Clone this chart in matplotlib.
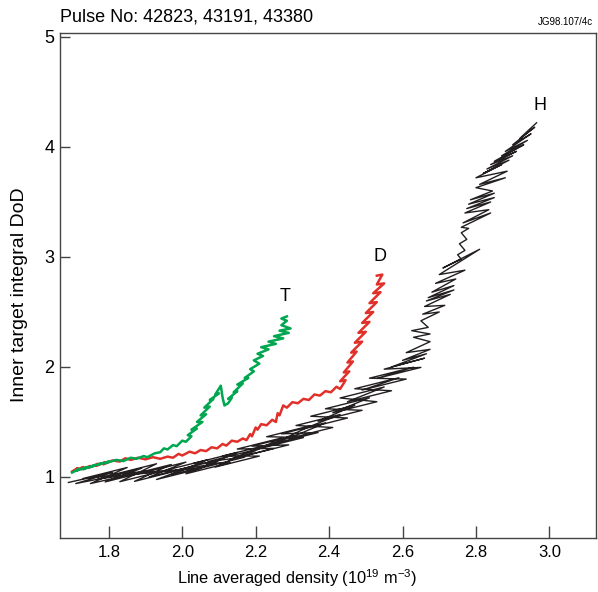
import matplotlib
matplotlib.use("Agg")
import matplotlib.pyplot as plt

plt.rcParams['font.family'] = ['Liberation Sans', 'DejaVu Sans']
plt.rcParams['mathtext.fontset'] = 'custom'
plt.rcParams['mathtext.rm'] = 'Liberation Sans'
plt.rcParams['mathtext.it'] = 'Liberation Sans'

# H (black) - sawtooth strokes, start/end pairs
h_x = [1.69, 1.81, 1.71, 1.83, 1.73, 1.85, 1.75, 1.87, 1.77, 1.89,
       1.79, 1.91, 1.81, 1.93, 1.83, 1.95, 1.85, 1.97, 1.87, 1.99,
       1.89, 2.01, 1.91, 2.03, 1.93, 2.05, 1.95, 2.07, 1.97, 2.09,
       1.99, 2.11, 2.01, 2.13, 2.03, 2.15, 2.05, 2.17, 2.07, 2.19,
       2.09, 2.21, 2.11, 2.23, 2.13, 2.25, 2.15, 2.27, 2.17, 2.29,
       2.19, 2.31, 2.21, 2.33, 2.23, 2.35, 2.25, 2.37, 2.27, 2.39,
       2.29, 2.41, 2.31, 2.43, 2.33, 2.45, 2.35, 2.47, 2.37, 2.49,
       2.39, 2.51, 2.41, 2.53, 2.43, 2.55, 2.45, 2.57, 2.47, 2.59,
       2.49, 2.61, 2.51, 2.63, 2.53, 2.65, 2.55, 2.66, 2.57, 2.665,
       2.60, 2.675, 2.61, 2.675,
       2.63, 2.675, 2.625, 2.67,
       2.65, 2.70, 2.655, 2.715, 2.66, 2.73, 2.665, 2.74, 2.67, 2.74,
       2.68, 2.745, 2.69, 2.77, 2.70, 2.81, 2.71, 2.76,
       2.75, 2.77, 2.755, 2.775, 2.76, 2.78,
       2.76, 2.84, 2.765, 2.835, 2.77, 2.84, 2.775, 2.85, 2.78, 2.85,
       2.785, 2.845, 2.80, 2.88, 2.81, 2.885, 2.80, 2.87, 2.82, 2.89,
       2.83, 2.90, 2.84, 2.91, 2.85, 2.93, 2.87, 2.94, 2.88, 2.95,
       2.90, 2.96, 2.92, 2.965]
h_y = [0.95, 1.04, 0.94, 1.02, 0.986, 1.086, 0.94, 1.03, 0.98, 1.08,
       0.955, 1.055, 1.02, 1.12, 0.957, 1.057, 1.013, 1.113, 0.96, 1.06,
       1.035, 1.135, 1.00, 1.10, 0.977, 1.077, 1.057, 1.157, 1.021, 1.121,
       1.065, 1.165, 1.029, 1.129, 1.123, 1.223, 1.08, 1.18, 1.14, 1.24,
       1.09, 1.19, 1.19, 1.29, 1.16, 1.26, 1.254, 1.354, 1.192, 1.292,
       1.28, 1.38, 1.258, 1.358, 1.366, 1.466, 1.304, 1.404, 1.392, 1.492,
       1.35, 1.45, 1.468, 1.568, 1.436, 1.536, 1.552, 1.652, 1.506, 1.606,
       1.62, 1.72, 1.584, 1.684, 1.718, 1.818, 1.684, 1.784, 1.802, 1.902,
       1.79, 1.89, 1.898, 1.998, 1.896, 1.996, 1.98, 2.08, 2.00, 2.12,
       2.06, 2.16, 2.13, 2.23,
       2.27, 2.30, 2.33, 2.36,
       2.42, 2.50, 2.48, 2.56, 2.55, 2.66, 2.60, 2.70, 2.63, 2.74,
       2.68, 2.80, 2.76, 2.88, 2.84, 3.07, 2.90, 2.98,
       3.02, 3.06, 3.12, 3.16, 3.22, 3.26,
       3.27, 3.40, 3.31, 3.43, 3.40, 3.50, 3.44, 3.54, 3.48, 3.58,
       3.52, 3.60, 3.63, 3.72, 3.66, 3.78, 3.72, 3.84, 3.76, 3.88,
       3.80, 3.92, 3.84, 3.96, 3.87, 4.02, 3.92, 4.06, 3.96, 4.12,
       4.02, 4.18, 4.08, 4.22]

# D (red)
d_x = [1.70, 1.715, 1.71, 1.73, 1.725, 1.75, 1.745, 1.77, 1.765, 1.79,
       1.785, 1.81, 1.83, 1.845, 1.86, 1.88, 1.90, 1.92, 1.94, 1.96,
       1.975, 1.99, 2.00, 2.02, 2.035, 2.05, 2.065, 2.08, 2.095, 2.11,
       2.12, 2.135, 2.15, 2.165, 2.175, 2.185, 2.19, 2.20, 2.205, 2.215,
       2.23, 2.245, 2.255, 2.26, 2.265, 2.275, 2.285, 2.30, 2.315, 2.33,
       2.345, 2.36, 2.375, 2.39, 2.405, 2.42, 2.43, 2.445, 2.43, 2.455,
       2.44, 2.465, 2.45, 2.475, 2.46, 2.49, 2.47, 2.50, 2.48, 2.51,
       2.49, 2.52, 2.50, 2.53, 2.51, 2.54, 2.52, 2.55, 2.53, 2.545,
       2.53]
d_y = [1.05, 1.08, 1.06, 1.09, 1.07, 1.10, 1.085, 1.12, 1.10, 1.135,
       1.115, 1.15, 1.14, 1.17, 1.155, 1.175, 1.16, 1.18, 1.165, 1.185,
       1.175, 1.21, 1.195, 1.23, 1.215, 1.245, 1.235, 1.27, 1.26, 1.30,
       1.285, 1.33, 1.32, 1.35, 1.335, 1.39, 1.37, 1.45, 1.43, 1.48,
       1.47, 1.52, 1.50, 1.58, 1.56, 1.65, 1.63, 1.68, 1.67, 1.71,
       1.70, 1.75, 1.74, 1.78, 1.77, 1.82, 1.80, 1.88, 1.87, 1.96,
       1.95, 2.05, 2.04, 2.14, 2.13, 2.23, 2.22, 2.32, 2.31, 2.41,
       2.40, 2.50, 2.49, 2.59, 2.58, 2.68, 2.67, 2.76, 2.75, 2.84,
       2.83]

# T (green)
t_x = [1.70, 1.72, 1.71, 1.74, 1.73, 1.76, 1.75, 1.78, 1.77, 1.80,
       1.79, 1.82, 1.84, 1.86, 1.875, 1.895, 1.905, 1.925, 1.94, 1.95,
       1.96, 1.975, 1.985, 2.00, 2.01, 2.025, 2.015, 2.04, 2.025, 2.055,
       2.04, 2.065, 2.05, 2.075, 2.06, 2.085, 2.075, 2.10, 2.09, 2.105,
       2.11, 2.115, 2.125, 2.135, 2.125, 2.15, 2.14, 2.165, 2.15, 2.18,
       2.17, 2.195, 2.185, 2.21, 2.195, 2.22, 2.205, 2.235, 2.215, 2.255,
       2.235, 2.275, 2.25, 2.29, 2.265, 2.295, 2.27, 2.285, 2.27, 2.285]
t_y = [1.04, 1.075, 1.055, 1.09, 1.07, 1.105, 1.09, 1.125, 1.11, 1.14,
       1.125, 1.155, 1.145, 1.175, 1.165, 1.19, 1.18, 1.215, 1.225, 1.26,
       1.25, 1.29, 1.28, 1.33, 1.32, 1.37, 1.38, 1.44, 1.43, 1.50,
       1.50, 1.57, 1.56, 1.64, 1.63, 1.71, 1.70, 1.76, 1.75, 1.83,
       1.72, 1.65, 1.67, 1.72, 1.71, 1.78, 1.77, 1.85, 1.84, 1.90,
       1.90, 1.96, 1.98, 2.03, 2.06, 2.10, 2.12, 2.16, 2.18, 2.21,
       2.23, 2.26, 2.28, 2.31, 2.33, 2.35, 2.38, 2.42, 2.44, 2.46]

fig = plt.figure(figsize=(5.98, 5.92), dpi=100)
ax = fig.add_axes([0.1003, 0.0912, 0.897, 0.853])

ax.plot(h_x, h_y, color='#231f20', lw=1.0)
ax.plot(d_x, d_y, color='#e1302a', lw=1.8)
ax.plot(t_x, t_y, color='#00a650', lw=1.8)

ax.text(2.975, 4.38, 'H', fontsize=13, ha='center', va='center')
ax.text(2.538, 3.0, 'D', fontsize=13, ha='center', va='center')
ax.text(2.28, 2.64, 'T', fontsize=13, ha='center', va='center')

ax.set_xlim(1.667, 3.128)
ax.set_ylim(0.445, 5.036)
ax.set_xticks([1.8, 2.0, 2.2, 2.4, 2.6, 2.8, 3.0])
ax.set_xticklabels(['1.8', '2.0', '2.2', '2.4', '2.6', '2.8', '3.0'])
ax.set_yticks([1, 2, 3, 4, 5])
ax.tick_params(axis='x', direction='in', length=9, width=1, color='#444444',
               labelsize=12, pad=5)
ax.tick_params(axis='y', direction='in', length=7, width=1, color='#444444',
               labelsize=13, pad=4)
for s in ax.spines.values():
    s.set_color('#444444')
    s.set_linewidth(1)

fig.text(297 / 598, 1 - 578 / 592, 'Line averaged density (10$^{19}$ m$^{-3}$)',
         fontsize=11.8, ha='center', va='center')
fig.text(20 / 598, 1 - 295 / 592, 'Inner target integral DoD', fontsize=14,
         rotation=90, ha='center', va='center')

fig.text(0.1, 0.972, 'Pulse No: 42823, 43191, 43380', fontsize=13, va='center')
fig.text(0.992, 0.962, 'JG98.107/4c', fontsize=7, ha='right', va='center')

fig.savefig('out.png', dpi=100)
